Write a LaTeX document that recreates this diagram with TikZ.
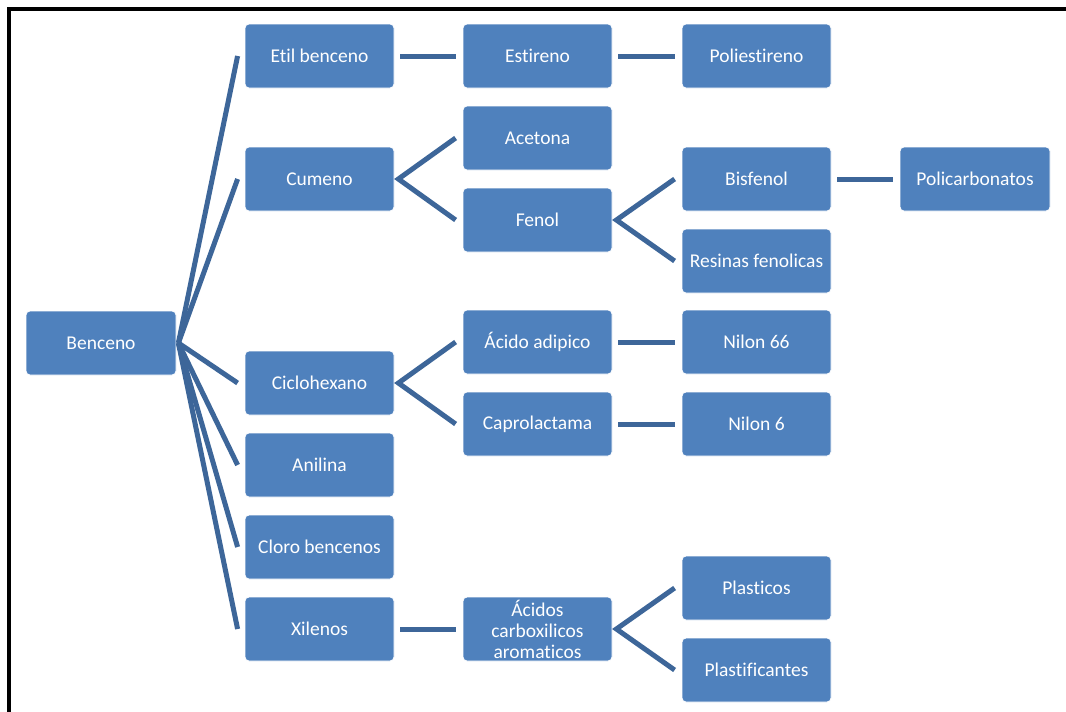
\documentclass[tikz,border=0pt]{standalone}
\usepackage{fontspec}
\setmainfont[Ligatures=NoCommon]{Carlito}
\definecolor{boxblue}{HTML}{4F81BD}
\definecolor{linkblue}{HTML}{3D6699}
\begin{document}
\begin{tikzpicture}[x=1pt,y=-1pt,
  item/.style={rectangle, rounded corners=4pt, fill=boxblue, draw=white, line width=0.8pt,
    minimum width=149pt, minimum height=64pt, inner sep=1pt, text=white, align=center,
    font=\fontsize{19.5}{21}\selectfont},
  link/.style={draw=linkblue, line width=5pt}]
\useasboundingbox (0,0) rectangle (1066,712);
\fill[white] (0,0) rectangle (1066,712);
% frame
\draw[line width=3.5pt, black] (9,712) -- (9,9) -- (1066,9);

% root
\node[item, minimum width=150pt] (benceno) at (101,343) {Benceno};

% first level
\node[item] (etil)   at (319.5,56)  {Etil benceno};
\node[item] (cumeno) at (319.5,179) {Cumeno};
\node[item] (ciclo)  at (319.5,383) {Ciclohexano};
\node[item] (anil)   at (319.5,465) {Anilina};
\node[item] (cloro)  at (319.5,547) {Cloro bencenos};
\node[item] (xil)    at (319.5,629) {Xilenos};

% second level
\node[item] (estir)  at (537.5,56)  {Estireno};
\node[item] (acet)   at (537.5,138) {Acetona};
\node[item] (fenol)  at (537.5,220) {Fenol};
\node[item] (adip)   at (537.5,342) {Ácido adipico};
\node[item] (capro)  at (537.5,424) {Caprolactama};
\node[item] (carbox) at (537.5,629) {Ácidos\\carboxilicos\\aromaticos};

% third level
\node[item] (poliest) at (756.5,56)  {Poliestireno};
\node[item] (bisf)    at (756.5,179) {Bisfenol};
\node[item] (resin)   at (756.5,261) {Resinas fenolicas};
\node[item] (nil66)   at (756.5,342) {Nilon 66};
\node[item] (nil6)    at (756.5,424) {Nilon 6};
\node[item] (plast)   at (756.5,588) {Plasticos};
\node[item] (plastif) at (756.5,670) {Plastificantes};

% fourth level
\node[item, minimum width=150pt] (polic) at (975,179) {Policarbonatos};

% branches from the root
\foreach \c in {etil,cumeno,ciclo,anil,cloro,xil}
  \draw[link] ([xshift=2pt]benceno.east) -- ([xshift=-7pt]\c.west);

% forks
\foreach \p/\a/\b in {cumeno/acet/fenol, fenol/bisf/resin, ciclo/adip/capro, carbox/plast/plastif}{
  \draw[link, line join=miter] ([xshift=-7pt]\a.west) -- ([xshift=4pt]\p.east) -- ([xshift=-7pt]\b.west);
}

% straight links
\foreach \p/\c in {etil/estir, estir/poliest, bisf/polic, adip/nil66, capro/nil6, xil/carbox}
  \draw[link] ([xshift=6pt]\p.east) -- ([xshift=-7pt]\c.west);
\end{tikzpicture}
\end{document}
